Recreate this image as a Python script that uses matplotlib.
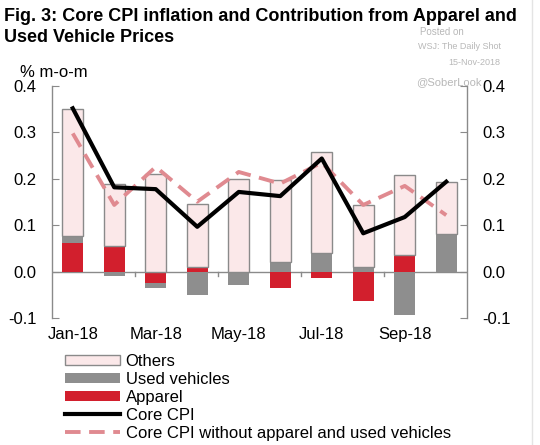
import matplotlib
matplotlib.use('Agg')
import matplotlib.pyplot as plt
from matplotlib.patches import Patch
from matplotlib.lines import Line2D
import numpy as np

plt.rcParams['font.family'] = ['Liberation Sans', 'DejaVu Sans']

months = ['Jan-18', 'Feb-18', 'Mar-18', 'Apr-18', 'May-18', 'Jun-18',
          'Jul-18', 'Aug-18', 'Sep-18', 'Oct-18']
apparel = [0.063, 0.056, -0.024, 0.010, 0.0, -0.034, -0.013, -0.063, 0.036, 0.0]
used = [0.014, -0.009, -0.010, -0.050, -0.028, 0.022, 0.040, 0.010, -0.093, 0.081]
others = [0.273, 0.134, 0.210, 0.136, 0.199, 0.176, 0.217, 0.134, 0.172, 0.112]
core = [0.352, 0.182, 0.178, 0.097, 0.172, 0.163, 0.244, 0.083, 0.118, 0.194]
core_ex = [0.298, 0.144, 0.226, 0.151, 0.215, 0.190, 0.235, 0.144, 0.185, 0.122]
label_months = [0, 2, 4, 6, 8]
yticks = [-0.1, 0.0, 0.1, 0.2, 0.3, 0.4]

red = '#D21F2D'
grey = '#8E8E8E'
pink = '#FBE8E9'
edge = '#8A8A8A'
dash_col = '#E08A90'

fig = plt.figure(figsize=(5.4, 4.45), dpi=100)
ax = fig.add_axes([0.0963, 0.2847, 0.7685, 0.522])

x = np.arange(len(months))
w = 0.5
pos = np.zeros(len(x))
neg = np.zeros(len(x))
for vals, col in [(apparel, red), (used, grey)]:
    v = np.array(vals)
    b = np.where(v >= 0, pos, neg)
    ax.bar(x, v, w, bottom=b, color=col, linewidth=0, zorder=2)
    pos = pos + np.where(v >= 0, v, 0)
    neg = neg + np.where(v < 0, v, 0)
ax.bar(x, others, w, bottom=pos, color=pink, edgecolor=edge, linewidth=1.0, zorder=2)

ax.plot(x, core_ex, color=dash_col, lw=2.8, dashes=(4, 2.2), zorder=3)
ax.plot(x, core, color='black', lw=3.0, zorder=4)

ax.axhline(0, color=edge, lw=1.0, zorder=1)
for t in [1.5, 3.5, 5.5, 7.5]:
    ax.plot([t, t], [0, -0.008], color=edge, lw=1.0, zorder=1)

ax.set_xlim(-0.5, 9.5)
ax.set_ylim(-0.1, 0.4)
ax.set_yticks(yticks)
ax.set_yticklabels(['%.1f' % t for t in yticks])
ax.tick_params(axis='y', direction='in', length=5, color=edge, labelsize=12,
               left=True, right=True, labelleft=True, labelright=True, pad=11)
ax.set_xticks(label_months)
ax.set_xticklabels([months[i] for i in label_months])
ax.tick_params(axis='x', length=0, labelsize=12, pad=6)
for s in ['top', 'bottom']:
    ax.spines[s].set_visible(False)
for s in ['left', 'right']:
    ax.spines[s].set_color(edge)
    ax.spines[s].set_linewidth(1.0)

fig.text(0.008, 0.982, 'Fig. 3: Core CPI inflation and Contribution from Apparel and\nUsed Vehicle Prices',
         fontsize=13.0, fontweight='bold', ha='left', va='top', linespacing=1.3)
fig.text(0.037, 0.838, '% m-o-m', fontsize=12, ha='left', va='center')

wm = '#B8B8B8'
fig.text(0.778, 0.928, 'Posted on', fontsize=7, color=wm, ha='left', va='center')
fig.text(0.774, 0.896, 'WSJ: The Daily Shot', fontsize=6.5, color=wm, ha='left', va='center')
fig.text(0.927, 0.860, '15-Nov-2018', fontsize=6.5, color=wm, ha='right', va='center')
fig.text(0.770, 0.815, '@SoberLook', fontsize=8, color=wm, ha='left', va='center')
fig.add_artist(Line2D([0.985, 0.985], [0.0, 1.0], color='#E4E4E4', lw=1.0))

handles = [
    Patch(facecolor=pink, edgecolor=edge, linewidth=1.0, label='Others'),
    Patch(facecolor=grey, edgecolor='none', label='Used vehicles'),
    Patch(facecolor=red, edgecolor='none', label='Apparel'),
    Line2D([], [], color='black', lw=3.0, label='Core CPI'),
    Line2D([], [], color=dash_col, lw=2.8, dashes=(4, 2.2),
           label='Core CPI without apparel and used vehicles'),
]
fig.legend(handles=handles, loc='upper left', bbox_to_anchor=(0.12, 0.205),
           frameon=False, fontsize=12, handlelength=3.3, handleheight=0.5,
           handletextpad=0.35, labelspacing=0.18, borderpad=0, borderaxespad=0)

fig.savefig('out.png', dpi=100)
